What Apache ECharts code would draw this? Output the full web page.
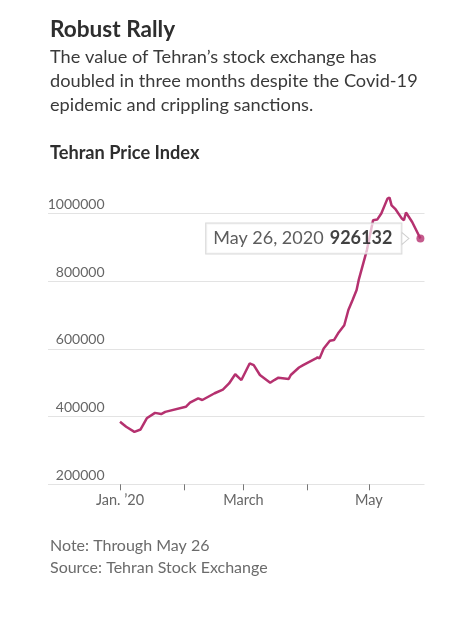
<!DOCTYPE html>
<html>
<head>
<meta charset="utf-8">
<script src="https://cdn.jsdelivr.net/npm/echarts@6/dist/echarts.min.js"></script>
<style>
html,body{margin:0;padding:0;background:#fff;}
#c{width:449px;height:618px;}
</style>
</head>
<body>
<div id="c"></div>
<script>
var dates = ['2020-01-01','2020-01-04','2020-01-08','2020-01-11','2020-01-14','2020-01-18','2020-01-21','2020-01-23',
  '2020-02-02','2020-02-04','2020-02-08','2020-02-10','2020-02-16','2020-02-20','2020-02-23','2020-02-26','2020-02-29',
  '2020-03-04','2020-03-06','2020-03-09','2020-03-14','2020-03-16','2020-03-18','2020-03-23','2020-03-24','2020-03-28','2020-03-30',
  '2020-04-05','2020-04-06','2020-04-07','2020-04-09','2020-04-12','2020-04-14','2020-04-16','2020-04-19','2020-04-21','2020-04-23','2020-04-25','2020-04-26','2020-04-30',
  '2020-05-03','2020-05-05','2020-05-07','2020-05-10','2020-05-11','2020-05-12','2020-05-14','2020-05-17','2020-05-18','2020-05-19','2020-05-22','2020-05-26'];
var values = [385000,370000,355000,362000,395000,411000,407500,414000,
  429000,441000,454000,449000,469000,480000,498000,525000,508000,
  557000,552000,523000,500000,508000,515000,511000,523000,545000,552000,
  571000,575000,572000,601000,624000,626000,646000,670000,715000,744000,774000,803000,892000,
  980000,982000,1000000,1044000,1047000,1024000,1012000,985000,980000,1003000,975000,926132];
var yTicks = [200000,400000,600000,800000,1000000];
var xTickDates = ['2020-01-01','2020-02-01','2020-03-01','2020-04-01','2020-05-01'];
var xLabelDates = ['2020-01-01','2020-03-01','2020-05-01'];
var xLabelTexts = ["Jan. \u201920","March","May"];
var title = 'Robust Rally';
var subtitle = ['The value of Tehran\u2019s stock exchange has','doubled in three months despite the Covid-19','epidemic and crippling sanctions.'];
var chartLabel = 'Tehran Price Index';
var notes = ['Note: Through May 26','Source: Tehran Stock Exchange'];
var tipDate = 'May 26, 2020';

function ts(s){var p=s.split('-');return Date.UTC(+p[0],+p[1]-1,+p[2]);}
var FONT = 'Lato, "Noto Sans", sans-serif';
var LINE = '#b5316f';
var chart = echarts.init(document.getElementById('c'), null, {renderer:'canvas'});
var lineData = dates.map(function(d,i){return [ts(d), values[i]];});
var last = lineData[lineData.length-1];

var graphics = [];
graphics.push({type:'text', x:50, y:29.5, style:{text:title, font:'bold 22.6px '+FONT, fill:'#2e2e2e', verticalAlign:'middle'}});
subtitle.forEach(function(t,i){
  graphics.push({type:'text', x:50, y:57+i*24, style:{text:t, font:'18.2px '+FONT, fill:'#3a3a3a', verticalAlign:'middle'}});
});
graphics.push({type:'text', x:50, y:153, style:{text:chartLabel, font:'bold 18.2px '+FONT, fill:'#2e2e2e', verticalAlign:'middle'}});
notes.forEach(function(t,i){
  graphics.push({type:'text', x:50, y:546+i*21.6, style:{text:t, font:'16px '+FONT, fill:'#6b6b6b', verticalAlign:'middle'}});
});

chart.setOption({
  animation:false,
  textStyle:{fontFamily:FONT},
  grid:{left:48, right:24.5, top:213.5, bottom:133.7},
  xAxis:{
    type:'value',
    min:ts('2019-11-27'), max:ts('2020-05-28'),
    axisLine:{show:false},
    axisTick:{show:true, length:6, lineStyle:{color:'#777'}, customValues: xTickDates.map(ts)},
    axisLabel:{show:true, color:'#666', fontSize:14.5, margin:9, fontFamily:FONT,
      customValues: xLabelDates.map(ts),
      formatter:function(v){ for(var i=0;i<xLabelDates.length;i++){ if(Math.abs(ts(xLabelDates[i])-v)<86400000) return xLabelTexts[i]; } return ''; }},
    splitLine:{show:false}
  },
  yAxis:{
    type:'value', min:yTicks[0], max:yTicks[yTicks.length-1], interval:200000,
    axisLine:{show:false}, axisTick:{show:false},
    axisLabel:{inside:true, align:'right', margin:56.5, verticalAlign:'bottom', color:'#666', fontSize:14, fontFamily:FONT, padding:[0,0,2,0],
      formatter:function(v){return String(v);}},
    splitLine:{show:true, lineStyle:{color:'#e3e3e3', width:1}}
  },
  graphic:graphics,
  series:[
    {type:'line', data:lineData, showSymbol:false, clip:false, lineStyle:{color:LINE, width:2.5}, itemStyle:{color:LINE}, z:2, silent:true},
    {type:'scatter', data:[last], clip:false, symbolSize:8, itemStyle:{color:LINE}, z:3, silent:true,
      label:{show:true, position:'left', distance:15,
        formatter:function(p){return '{a|'+tipDate+'}  {b|'+p.value[1]+'}';},
        backgroundColor:'rgba(255,255,255,0.85)', borderColor:'#cfcfcf', borderWidth:1, padding:[6,9,6,7],
        rich:{a:{fontSize:18, color:'#333', fontFamily:FONT}, b:{fontSize:18, color:'#111', fontWeight:'bold', fontFamily:FONT}}},
      markPoint:{silent:true, symbol:'triangle', symbolRotate:-90, symbolSize:[12,7], symbolOffset:[-15,0],
        itemStyle:{color:'#fff', borderColor:'#cfcfcf', borderWidth:1}, label:{show:false},
        data:[{coord:last}]}
    }
  ]
});
</script>
</body>
</html>
